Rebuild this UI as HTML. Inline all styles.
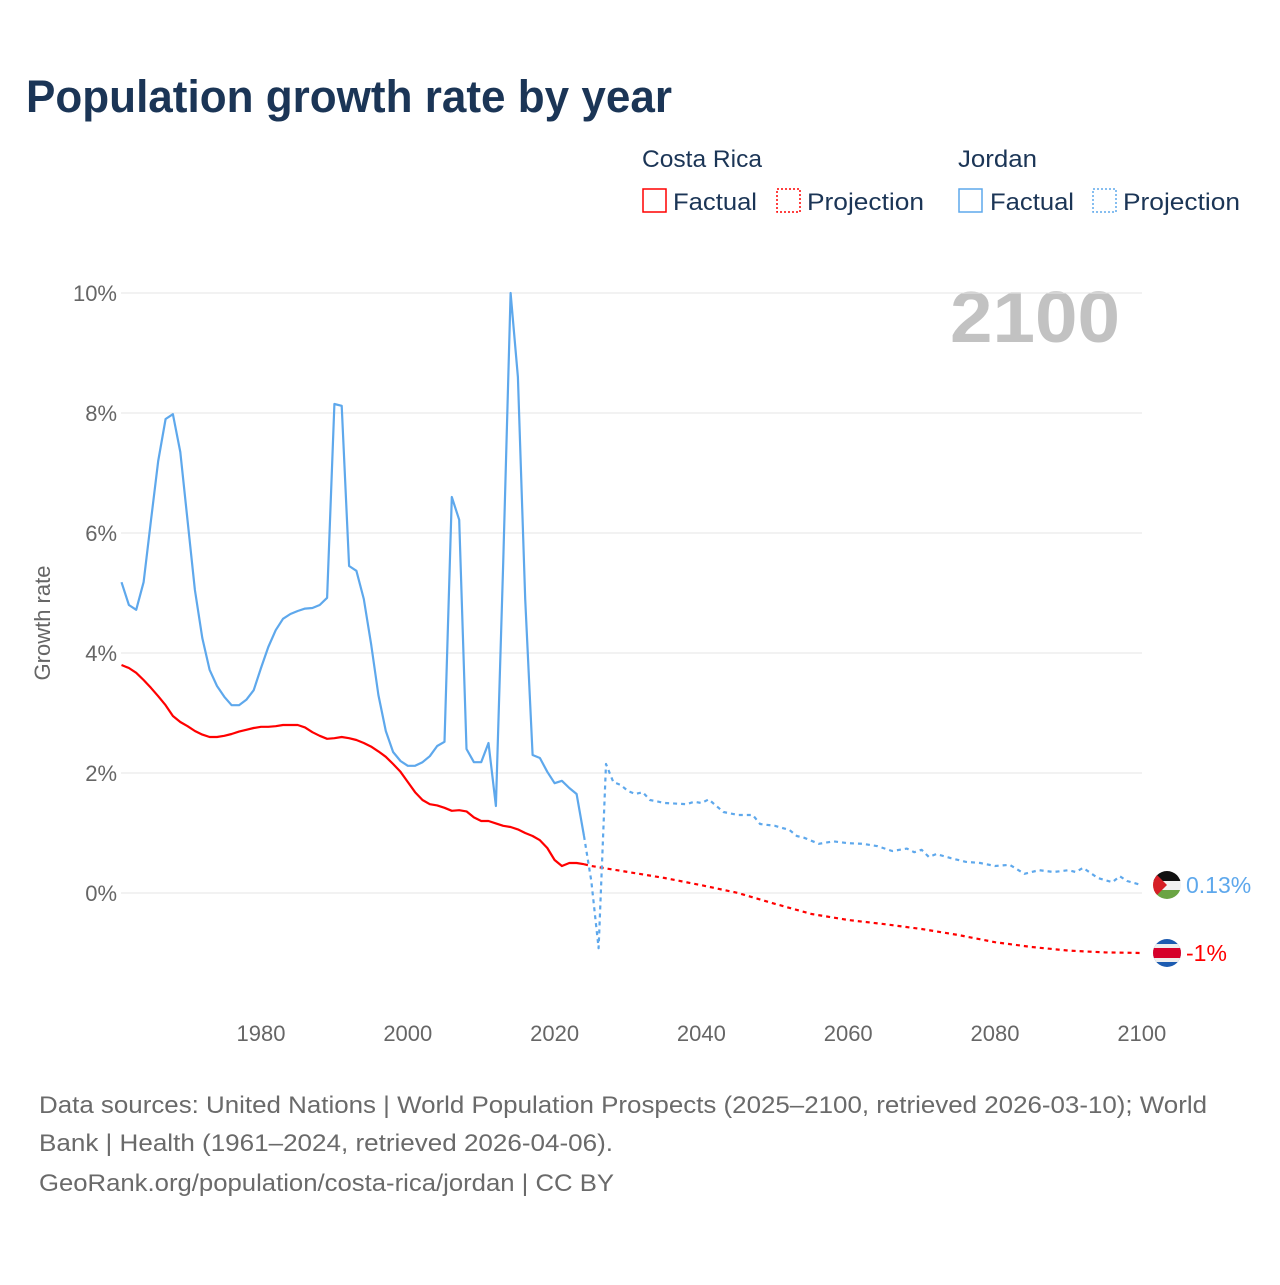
<!DOCTYPE html>
<html><head><meta charset="utf-8"><style>
body{margin:0;background:#fff;font-family:"Liberation Sans",sans-serif;}
svg text{font-family:"Liberation Sans",sans-serif;}
</style></head><body>
<svg width="1280" height="1280" xmlns="http://www.w3.org/2000/svg">
<defs>
<clipPath id="cj"><circle cx="1167" cy="885" r="14"/></clipPath>
<clipPath id="cc"><circle cx="1167" cy="953" r="14"/></clipPath>
</defs>
<text x="26" y="112" font-size="45" font-weight="bold" fill="#1b3556" textLength="646" lengthAdjust="spacingAndGlyphs">Population growth rate by year</text>
<g font-size="24" fill="#1b3556">
<text x="642" y="167" textLength="120" lengthAdjust="spacingAndGlyphs">Costa Rica</text>
<text x="958" y="167" textLength="79" lengthAdjust="spacingAndGlyphs">Jordan</text>
<g><rect x="643" y="189" width="23" height="23" fill="none" stroke="#f00" stroke-width="1.5"/><text x="673" y="210" textLength="84" lengthAdjust="spacingAndGlyphs">Factual</text></g>
<g><rect x="777" y="189" width="23" height="23" fill="none" stroke="#f00" stroke-width="1.5" stroke-dasharray="2 2"/><text x="807" y="210" textLength="117" lengthAdjust="spacingAndGlyphs">Projection</text></g>
<g><rect x="959" y="189" width="23" height="23" fill="none" stroke="#5ea8ec" stroke-width="1.5"/><text x="990" y="210" textLength="84" lengthAdjust="spacingAndGlyphs">Factual</text></g>
<g><rect x="1093" y="189" width="23" height="23" fill="none" stroke="#5ea8ec" stroke-width="1.5" stroke-dasharray="2 2"/><text x="1123" y="210" textLength="117" lengthAdjust="spacingAndGlyphs">Projection</text></g>
</g>
<text x="1120" y="342" font-size="72" font-weight="bold" fill="#c2c2c2" text-anchor="end" textLength="170" lengthAdjust="spacingAndGlyphs">2100</text>
<text transform="translate(50,623) rotate(-90)" font-size="22" fill="#666" text-anchor="middle">Growth rate</text>
<g id="grid"></g>
<g id="yticks"></g>
<g id="xticks"></g>
<g id="series"></g>
<g id="ends"></g>
<g font-size="24" fill="#6a6a6a">
<text x="39" y="1113" textLength="1168" lengthAdjust="spacingAndGlyphs">Data sources: United Nations | World Population Prospects (2025–2100, retrieved 2026-03-10); World</text>
<text x="39" y="1151" textLength="574" lengthAdjust="spacingAndGlyphs">Bank | Health (1961–2024, retrieved 2026-04-06).</text>
<text x="39" y="1191" textLength="575" lengthAdjust="spacingAndGlyphs">GeoRank.org/population/costa-rica/jordan | CC BY</text>
</g>
</svg>
<script>
const yTicks=[0,2,4,6,8,10];
const xTicks=[1980,2000,2020,2040,2060,2080,2100];
const jorFactYears=[1961,1962,1963,1964,1965,1966,1967,1968,1969,1970,1971,1972,1973,1974,1975,1976,1977,1978,1979,1980,1981,1982,1983,1984,1985,1986,1987,1988,1989,1990,1991,1992,1993,1994,1995,1996,1997,1998,1999,2000,2001,2002,2003,2004,2005,2006,2007,2008,2009,2010,2011,2012,2013,2014,2015,2016,2017,2018,2019,2020,2021,2022,2023,2024];
const jorFact=[5.18,4.8,4.72,5.18,6.2,7.2,7.9,7.98,7.35,6.2,5.05,4.25,3.72,3.45,3.27,3.13,3.13,3.22,3.38,3.75,4.1,4.38,4.57,4.65,4.7,4.74,4.75,4.8,4.92,8.15,8.12,5.45,5.37,4.9,4.15,3.3,2.7,2.35,2.2,2.12,2.12,2.18,2.28,2.45,2.52,6.6,6.22,2.4,2.18,2.18,2.5,1.45,5.5,10.0,8.6,4.9,2.3,2.25,2.02,1.83,1.87,1.75,1.65,0.95];
const jorProjYears=[2024,2025,2026,2027,2028,2029,2030,2031,2032,2033,2035,2038,2039,2040,2041,2043,2045,2047,2048,2050,2052,2053,2054,2056,2058,2060,2062,2064,2066,2068,2069,2070,2071,2072,2074,2076,2078,2080,2082,2084,2086,2088,2090,2091,2092,2094,2096,2097,2098,2100];
const jorProj=[0.95,0.2,-0.92,2.15,1.85,1.8,1.7,1.65,1.68,1.55,1.5,1.48,1.52,1.5,1.56,1.35,1.3,1.3,1.15,1.12,1.05,0.95,0.92,0.82,0.86,0.83,0.82,0.78,0.7,0.74,0.68,0.72,0.6,0.65,0.58,0.52,0.5,0.45,0.47,0.32,0.38,0.35,0.38,0.35,0.42,0.25,0.18,0.28,0.2,0.13];
const crFactYears=jorFactYears;
const crFact=[3.8,3.75,3.67,3.55,3.42,3.28,3.13,2.95,2.85,2.78,2.7,2.64,2.6,2.6,2.62,2.65,2.69,2.72,2.75,2.77,2.77,2.78,2.8,2.8,2.8,2.76,2.68,2.62,2.57,2.58,2.6,2.58,2.55,2.5,2.44,2.36,2.27,2.15,2.02,1.85,1.68,1.55,1.48,1.46,1.42,1.37,1.38,1.36,1.26,1.2,1.2,1.16,1.12,1.1,1.06,1.0,0.95,0.88,0.75,0.55,0.45,0.5,0.5,0.48];
const crProjYears=[2024,2025,2030,2035,2040,2045,2050,2055,2060,2065,2070,2075,2080,2085,2090,2095,2100];
const crProj=[0.48,0.45,0.35,0.25,0.13,0.0,-0.18,-0.35,-0.45,-0.52,-0.6,-0.7,-0.82,-0.9,-0.96,-0.99,-1.0];
const NS='http://www.w3.org/2000/svg';
const X=yr=>261+(yr-1980)*7.34;
const Y=v=>893-60*v;
function mk(tag,attrs,parent){const e=document.createElementNS(NS,tag);for(const k in attrs)e.setAttribute(k,attrs[k]);parent.appendChild(e);return e;}
const grid=document.getElementById('grid'),yt=document.getElementById('yticks'),xt=document.getElementById('xticks'),ser=document.getElementById('series'),ends=document.getElementById('ends');
yTicks.forEach(t=>{
 const l=mk('line',{x1:121,x2:1142,y1:Y(t),y2:Y(t),stroke:'#e6e6e6','stroke-width':1},grid);
 
 
 const tx=mk('text',{x:117,y:Y(t)+8,'font-size':22,fill:'#666','text-anchor':'end'},yt);
 tx.textContent=t+'%';
 
 
});
xTicks.forEach(t=>{
 const tx=mk('text',{x:X(t),y:1041,'font-size':22,fill:'#666','text-anchor':'middle'},xt);
 tx.textContent=t;
 
 
});
function line(years,vals,color,dash,name){
 const d=years.map((y,i)=>(i?'L':'M')+X(y).toFixed(1)+','+Y(vals[i]).toFixed(1)).join('');
 const p=mk('path',{d:d,fill:'none',stroke:color,'stroke-width':2.2,'stroke-linejoin':'round'},ser);
 if(dash)p.setAttribute('stroke-dasharray',dash);
 
 
}
line(crFactYears,crFact,'#f00',null,'costa-rica-factual-line');
line(crProjYears,crProj,'#f00','4 4','costa-rica-projection-line');
line(jorFactYears,jorFact,'#5ea8ec',null,'jordan-factual-line');
line(jorProjYears,jorProj,'#5ea8ec','4 4','jordan-projection-line');
const jy=885, cy=953;
const jf=mk('g',{'clip-path':'url(#cj)'},ends);


mk('rect',{x:1153,y:jy-14,width:28,height:10,fill:'#111'},jf);
mk('rect',{x:1153,y:jy-4,width:28,height:9,fill:'#f2f2f2'},jf);
mk('rect',{x:1153,y:jy+5,width:28,height:10,fill:'#6aa443'},jf);
mk('path',{d:`M1153,${jy-14}L1167,${jy}L1153,${jy+14}Z`,fill:'#d61f26'},jf);
const jt=mk('text',{x:1186,y:jy+8,'font-size':23,fill:'#5ea8ec'},ends);
jt.textContent='0.13%';


const cf=mk('g',{'clip-path':'url(#cc)'},ends);


mk('rect',{x:1153,y:cy-14,width:28,height:28,fill:'#1c5bb0'},cf);
mk('rect',{x:1153,y:cy-9,width:28,height:18,fill:'#eee'},cf);
mk('rect',{x:1153,y:cy-5,width:28,height:10,fill:'#d6002a'},cf);
const ct=mk('text',{x:1186,y:cy+8,'font-size':23,fill:'#f00'},ends);
ct.textContent='-1%';


</script>
</body></html>
